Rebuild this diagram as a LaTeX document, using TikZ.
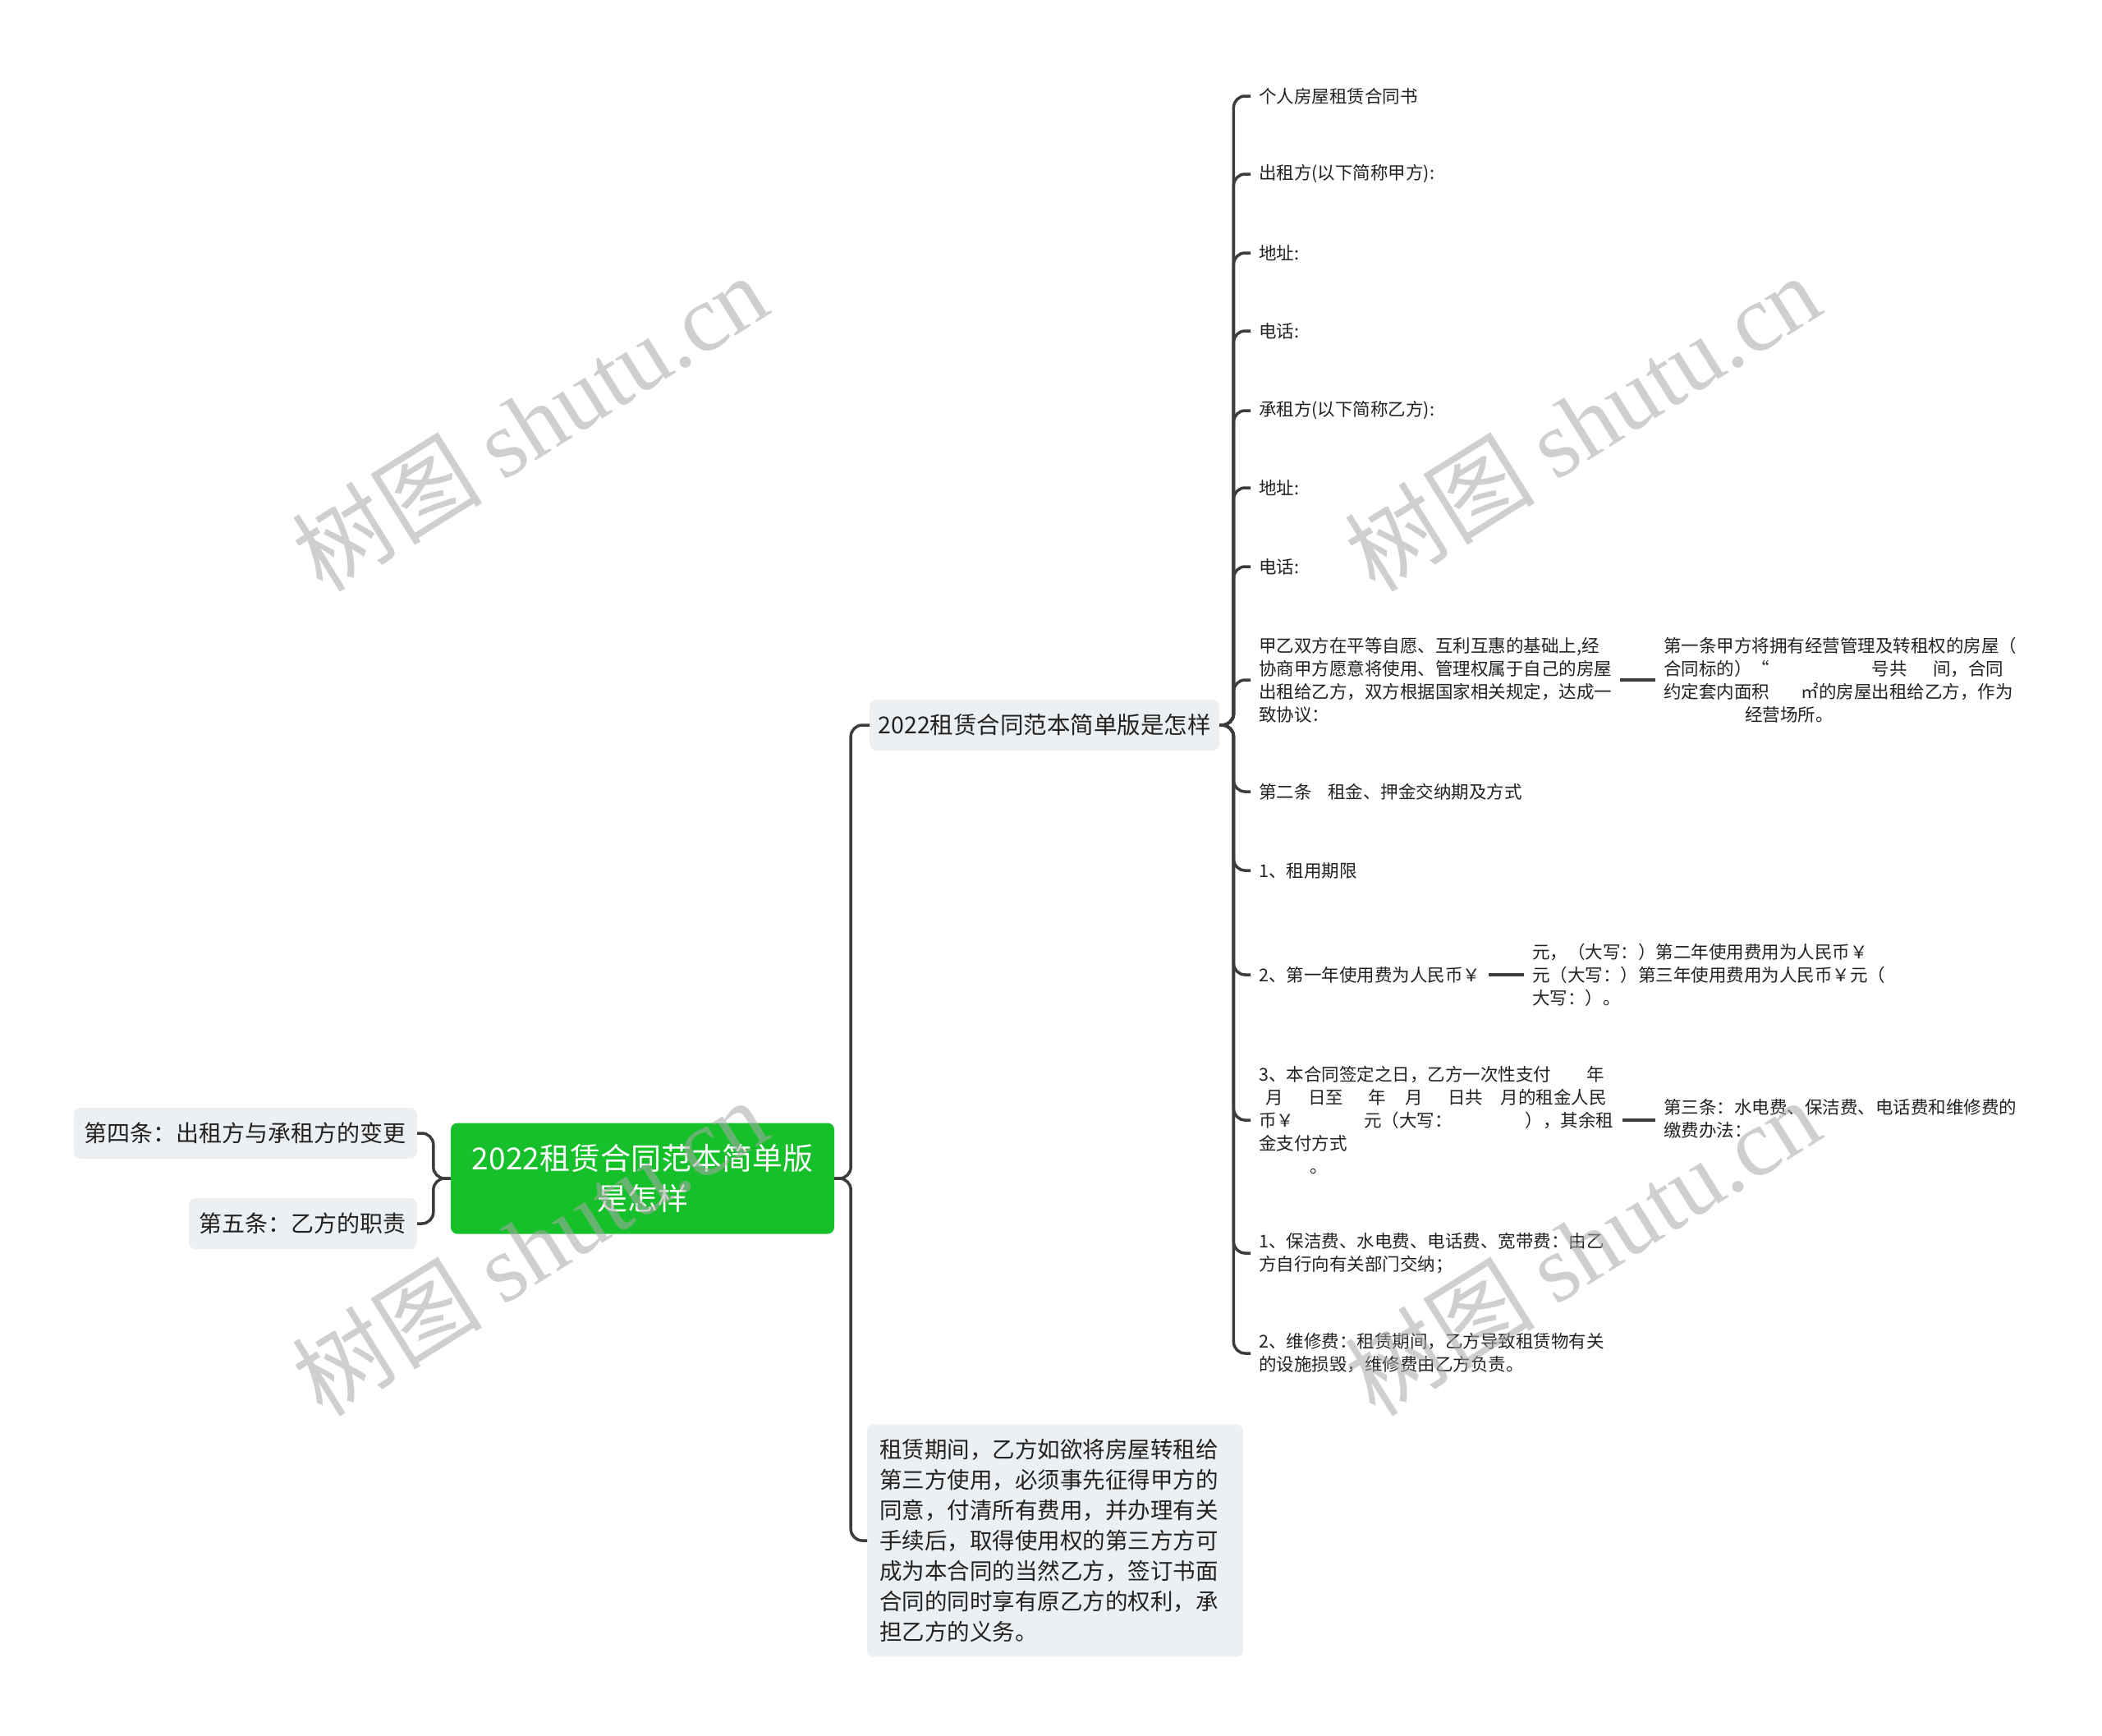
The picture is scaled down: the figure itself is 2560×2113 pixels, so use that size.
\documentclass[tikz,border=0pt]{standalone}
\usepackage{fontspec}
\setmainfont{Noto Sans CJK SC}
\newfontfamily\wmfont{Liberation Serif}
\usepackage{tikz}
\usepackage{color}

\definecolor{linegray}{HTML}{3C3C3C}
\definecolor{boxgray}{HTML}{EDF0F3}
\definecolor{rootgreen}{HTML}{16C02A}
\definecolor{textdark}{HTML}{222222}
\definecolor{wmgray}{HTML}{A8A8A8}

\tikzset{
  rootbox/.style={fill=rootgreen, text=white, rounded corners=8pt, align=center,
    minimum width=467pt, minimum height=135pt, font=\fontsize{37}{49}\selectfont},
  topic/.style={fill=boxgray, text=textdark, rounded corners=8pt, inner xsep=13pt,
    minimum height=62pt, font=\fontsize{28}{37}\selectfont},
  leaf/.style={text=textdark, anchor=west, align=left, inner xsep=10pt, inner ysep=2pt,
    font=\fontsize{21.5}{28}\selectfont},
  link/.style={draw=linegray, line width=3.5pt, rounded corners=14pt},
  wmark/.style={text=wmgray, opacity=0.55, rotate=32, font=\fontsize{116}{120}\selectfont}
}

\begin{document}
\begin{tikzpicture}[x=1pt,y=-1pt]
\useasboundingbox (0,0) rectangle (2560,2113);

\node[rootbox] (root) at (782.5,1435) {2022租赁合同范本简单版\\是怎样};
\node[topic, anchor=east] (l4) at (508,1380) {第四条：出租方与承租方的变更};
\node[topic, anchor=east] (l5) at (508,1490) {第五条：乙方的职责};
\node[topic, anchor=west, inner xsep=0pt, minimum width=426pt, font=\fontsize{28.5}{38}\selectfont] (a) at (1059,883) {2022租赁合同范本简单版是怎样};
\node[topic, anchor=west, align=left, text width=428pt, inner xsep=15pt, minimum height=283pt,
  font=\fontsize{27.5}{37}\selectfont] (b) at (1056,1876) {租赁期间，乙方如欲将房屋转租给\\第三方使用，必须事先征得甲方的\\同意，付清所有费用，并办理有关\\手续后，取得使用权的第三方方可\\成为本合同的当然乙方，签订书面\\合同的同时享有原乙方的权利，承\\担乙方的义务。};

\node[leaf] (s1) at (1523,117) {个人房屋租赁合同书};
\node[leaf] (s2) at (1523,212) {出租方(以下简称甲方):};
\node[leaf] (s3) at (1523,308) {地址:};
\node[leaf] (s4) at (1523,403) {电话:};
\node[leaf] (s5) at (1523,500) {承租方(以下简称乙方):};
\node[leaf] (s6) at (1523,594) {地址:};
\node[leaf] (s7) at (1523,690) {电话:};
\node[leaf] (s8) at (1523,828) {甲乙双方在平等自愿、互利互惠的基础上,经\\协商甲方愿意将使用、管理权属于自己的房屋\\出租给乙方，双方根据国家相关规定，达成一\\致协议：};
\node[leaf] (s9) at (1523,964) {第二条\hspace{0.9em}租金、押金交纳期及方式};
\node[leaf] (s10) at (1523,1060) {1、租用期限};
\node[leaf] (s11) at (1523,1187) {2、第一年使用费为人民币￥};
\node[leaf] (s12) at (1523,1364) {3、本合同签定之日，乙方一次性支付\hspace{2em}年\\\hspace*{0.4em}月\hspace{1.4em}日至\hspace{1.4em}年\hspace{1.1em}月\hspace{1.4em}日共\hspace{1em}月的租金人民\\币￥\hspace{3.95em}元（大写：\hspace{4.15em}），其余租\\金支付方式\\\hspace*{2.9em}。};
\node[leaf] (s13) at (1523,1526) {1、保洁费、水电费、电话费、宽带费：由乙\\方自行向有关部门交纳；};
\node[leaf] (s14) at (1523,1648) {2、维修费：租赁期间，乙方导致租赁物有关\\的设施损毁，维修费由乙方负责。};

\node[leaf] (t8) at (2016,828) {第一条甲方将拥有经营管理及转租权的房屋（\\合同标的）“\hspace{5.8em}号共\hspace{1.45em}间，合同\\约定套内面积\hspace{1.8em}㎡的房屋出租给乙方，作为\\\hspace*{4.6em}经营场所。};
\node[leaf] (t11) at (1856,1187) {元，（大写：）第二年使用费用为人民币￥\\元（大写：）第三年使用费用为人民币￥元（\\大写：）。};
\node[leaf] (t12) at (2016,1362) {第三条：水电费、保洁费、电话费和维修费的\\缴费办法：};

\draw[link] (root.west) -- ++(-21,0) |- (l4.east);
\draw[link] (root.west) -- ++(-21,0) |- (l5.east);
\draw[link] (root.east) -- ++(20,0) |- (a.west);
\draw[link] (root.east) -- ++(20,0) |- (b.west);
\foreach \n in {s1,s2,s3,s4,s5,s6,s7,s8,s9,s10,s11,s12,s13,s14}
  \draw[link] (a.east) -- ++(17,0) |- (\n.west);
\draw[link] (s8.east) -- (s8.east -| t8.west);
\draw[link] (s11.east) -- (s11.east -| t11.west);
\draw[link] (s12.east) -- (s12.east -| t12.west);

\node[wmark] (w1) at (645,514) {树图 {\wmfont shutu.cn}};
\node[wmark] (w2) at (1927,514) {树图 {\wmfont shutu.cn}};
\node[wmark] (w3) at (645,1518) {树图 {\wmfont shutu.cn}};
\node[wmark] (w4) at (1927,1518) {树图 {\wmfont shutu.cn}};
\end{tikzpicture}
\end{document}
